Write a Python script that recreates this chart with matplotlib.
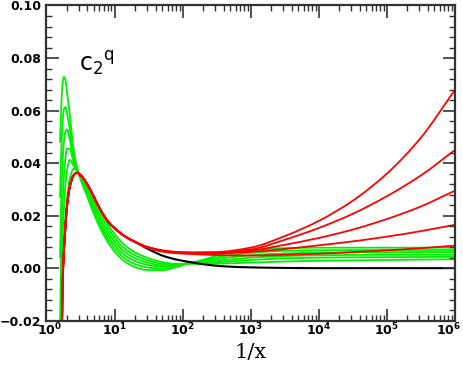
import matplotlib
matplotlib.use("Agg")
import matplotlib.pyplot as plt
import numpy as np
from matplotlib.path import Path
from matplotlib.patches import PathPatch
from matplotlib.transforms import ScaledTranslation
from matplotlib.ticker import FixedLocator, MultipleLocator, LogLocator, NullFormatter

# 1/x sample points for the green curves
green_x = [1.58, 1.65, 1.72, 1.8, 1.9, 2.0, 2.2, 2.5, 2.8, 3.2, 4, 5, 6.5, 8, 10,
           14, 20, 30, 50, 80, 130, 200, 400, 1e3, 3e3, 1e4, 1e5, 1e6]

green_1 = [0.048, 0.062, 0.0700, 0.0728, 0.0715, 0.0670, 0.0585, 0.0455, 0.0385, 0.0335,
           0.0270, 0.0205, 0.0140, 0.0098, 0.0063, 0.0026, 0.0004, -0.0007, -0.0008, 0.0004,
           0.0020, 0.0032, 0.0055, 0.0068, 0.0076, 0.0078, 0.0078, 0.0078]
green_2 = [0.027, 0.045, 0.055, 0.0605, 0.0613, 0.0590, 0.0528, 0.0435, 0.0380, 0.0338,
           0.0280, 0.0217, 0.0153, 0.0111, 0.0076, 0.0038, 0.0015, 0.0003, -0.0002, 0.0007,
           0.0020, 0.0029, 0.0046, 0.0058, 0.0066, 0.0068, 0.0069, 0.0069]
green_3 = [0.004, 0.027, 0.040, 0.0480, 0.0520, 0.0528, 0.0490, 0.0418, 0.0376, 0.0340,
           0.0288, 0.0228, 0.0165, 0.0124, 0.0089, 0.0050, 0.0027, 0.0013, 0.0005, 0.0010,
           0.0020, 0.0025, 0.0038, 0.0049, 0.0056, 0.0059, 0.0061, 0.0061]
green_4 = [-0.022, 0.008, 0.024, 0.0345, 0.0420, 0.0455, 0.0455, 0.0402, 0.0374, 0.0343,
           0.0296, 0.0240, 0.0178, 0.0138, 0.0102, 0.0063, 0.0038, 0.0022, 0.0011, 0.0013,
           0.0019, 0.0021, 0.0030, 0.0040, 0.0046, 0.0049, 0.0051, 0.0051]
green_5 = [-0.035, -0.008, 0.010, 0.0220, 0.0320, 0.0370, 0.0412, 0.0390, 0.0372, 0.0347,
           0.0304, 0.0251, 0.0193, 0.0153, 0.0116, 0.0075, 0.0049, 0.0031, 0.0017, 0.0015,
           0.0018, 0.0018, 0.0024, 0.0031, 0.0037, 0.0040, 0.0042, 0.0043]
green_6 = [-0.050, -0.022, -0.005, 0.008, 0.019, 0.026, 0.034, 0.0378, 0.0370, 0.0350,
           0.0312, 0.0262, 0.0208, 0.0168, 0.0130, 0.0088, 0.0060, 0.0040, 0.0023, 0.0016,
           0.0017, 0.0016, 0.0018, 0.0021, 0.0025, 0.0028, 0.0031, 0.0034]

# rising branch shared by the black and red curves
head_x = [1.68, 1.72, 1.8, 1.9, 2.0, 2.2, 2.5, 2.8, 3.2, 4, 5, 6.5, 8, 10, 14, 20]
head_y = [-0.030, -0.008, 0.006, 0.016, 0.0235, 0.031, 0.0353, 0.0363, 0.0353, 0.0318,
          0.027, 0.0213, 0.0178, 0.0152, 0.0122, 0.0100]

# black tail
black_x = [30, 40, 50, 65, 80, 100, 130, 200, 400, 1e3, 3e3, 1e4, 1e5, 1e6]
black_y = [0.0075, 0.0059, 0.0048, 0.0039, 0.0033, 0.0028, 0.0023, 0.0015, 0.0007,
           0.0003, 0.0001, 0.0, 0.0, 0.0]

# red tails
red_x = [30, 50, 80, 130, 300, 1e3, 3162, 1e4, 31623, 1e5, 316228, 1e6]
red_1 = [0.0081, 0.0068, 0.0062, 0.0060, 0.0061, 0.0078, 0.0122, 0.0180, 0.0257, 0.0360, 0.0497, 0.0679]
red_2 = [0.0081, 0.0067, 0.0061, 0.0059, 0.0059, 0.0071, 0.0108, 0.0153, 0.0207, 0.0274, 0.0353, 0.0450]
red_3 = [0.0080, 0.0066, 0.0060, 0.0058, 0.0058, 0.0067, 0.0089, 0.0115, 0.0147, 0.0187, 0.0235, 0.0295]
red_4 = [0.0080, 0.0065, 0.0059, 0.0057, 0.0056, 0.0062, 0.0073, 0.0087, 0.0102, 0.0120, 0.0141, 0.0165]
red_5 = [0.0079, 0.0063, 0.0057, 0.0054, 0.0050, 0.0048, 0.0051, 0.0055, 0.0061, 0.0068, 0.0076, 0.0086]

x_tick_pos = [1, 10, 100, 1e3, 1e4, 1e5, 1e6]
x_tick_lab = [r'$\mathbf{10^{%d}}$' % k for k in range(7)]
y_tick_pos = [-0.02, 0.0, 0.02, 0.04, 0.06, 0.08, 0.10]
y_tick_lab = ['\u22120.02', '0.00', '0.02', '0.04', '0.06', '0.08', '0.10']


def smooth_path(xs, ys):
    """Cubic Bezier path through the points (monotone tangents in log10 x)."""
    u = np.log10(np.asarray(xs, float))
    y = np.asarray(ys, float)
    h = np.diff(u)
    d = np.diff(y) / h
    m = np.zeros_like(y)
    m[0], m[-1] = d[0], d[-1]
    for i in range(1, len(y) - 1):
        if d[i - 1] * d[i] > 0:
            w1 = 2 * h[i] + h[i - 1]
            w2 = h[i] + 2 * h[i - 1]
            m[i] = (w1 + w2) / (w1 / d[i - 1] + w2 / d[i])
    verts = [(xs[0], y[0])]
    codes = [Path.MOVETO]
    for i in range(len(y) - 1):
        c1 = (10 ** (u[i] + h[i] / 3), y[i] + m[i] * h[i] / 3)
        c2 = (10 ** (u[i + 1] - h[i] / 3), y[i + 1] - m[i + 1] * h[i] / 3)
        verts += [c1, c2, (xs[i + 1], y[i + 1])]
        codes += [Path.CURVE4] * 3
    return Path(verts, codes)


def draw_curve(ax, xs, ys, color, lw):
    ax.add_patch(PathPatch(smooth_path(xs, ys), fill=False, edgecolor=color, lw=lw,
                           joinstyle='round', capstyle='round'))


plt.rcParams['mathtext.fontset'] = 'dejavusans'

fig = plt.figure(figsize=(4.63, 3.66), dpi=100)
ax = fig.add_axes([0.1004, 0.1238, 0.8823, 0.8612])
ax.set_xscale('log')
ax.set_xlim(1, 1e6)
ax.set_ylim(-0.02, 0.10)

lw = 1.3
for g in [green_1, green_2, green_3, green_4, green_5, green_6]:
    draw_curve(ax, green_x, g, '#00ee00', lw)

draw_curve(ax, head_x + black_x, head_y + black_y, 'black', lw + 0.2)

for r in [red_5, red_4, red_3, red_2, red_1]:
    draw_curve(ax, head_x + red_x, head_y + r, '#ff0000', lw)

ax.xaxis.set_major_locator(FixedLocator(x_tick_pos))
ax.set_xticklabels(x_tick_lab)
ax.xaxis.set_minor_locator(LogLocator(base=10, subs=np.arange(2, 10), numticks=20))
ax.xaxis.set_minor_formatter(NullFormatter())
ax.yaxis.set_major_locator(FixedLocator(y_tick_pos))
ax.set_yticklabels(y_tick_lab)
ax.yaxis.set_minor_locator(MultipleLocator(0.004))

for lab in ax.get_yticklabels():
    lab.set_fontweight('bold')

ax.tick_params(which='both', direction='in', top=True, right=True, colors='#333333',
               labelcolor='black')
ax.tick_params(axis='y', labelsize=9)
ax.tick_params(axis='x', labelsize=9, pad=1)
ax.tick_params(which='major', length=9, width=1.2)
ax.tick_params(which='minor', length=4.5, width=1.0)
for s in ax.spines.values():
    s.set_linewidth(1.6)
    s.set_color('#333333')

# keep the end x labels inside the figure
xlabs = ax.get_xticklabels()
xlabs[-1].set_transform(xlabs[-1].get_transform() + ScaledTranslation(-6 / 100, 0, fig.dpi_scale_trans))
xlabs[0].set_transform(xlabs[0].get_transform() + ScaledTranslation(3 / 100, 0, fig.dpi_scale_trans))

ax.set_xlabel('1/x', fontsize=15, family='DejaVu Serif', labelpad=3)
ax.text(0.08, 0.79, r'$\mathsf{c_2}^{\mathsf{q}}$', transform=ax.transAxes, fontsize=17,
        va='baseline')

fig.savefig('out.png', dpi=100)
